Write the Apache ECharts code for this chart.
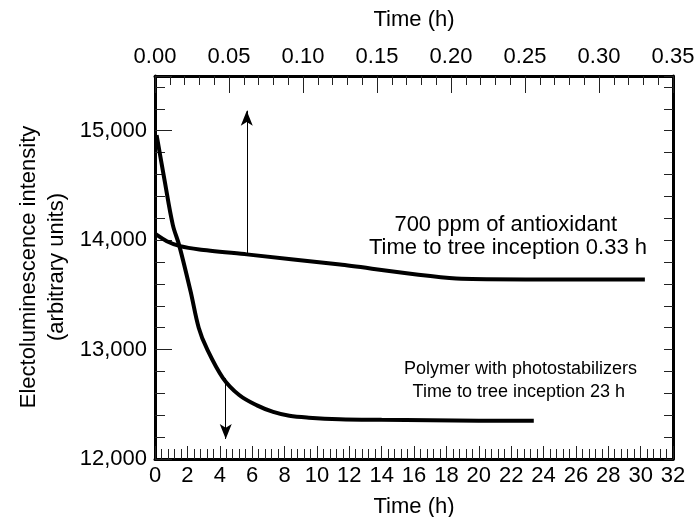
<!DOCTYPE html>
<html>
<head>
<meta charset="utf-8">
<script src="https://cdn.jsdelivr.net/npm/echarts@6/dist/echarts.min.js"></script>
<style>
  html, body { margin: 0; padding: 0; background: #fff; }
  #main { width: 697px; height: 517px; }
</style>
</head>
<body>
<div id="main"></div>
<script>
// polymer with photostabilizers, bottom time axis (h)
const photoTime = [0.1, 0.6, 1.1, 1.5, 2.2, 2.7, 3.2, 4.2, 5.2, 6.3, 7.3, 8.3, 9.5, 11.4, 14, 17, 20, 23.4];
const photoIntensity = [14960, 14540, 14140, 13950, 13530, 13200, 13010, 12740, 12585, 12490, 12430, 12395, 12378, 12364, 12358, 12354, 12350, 12350];

// 700 ppm of antioxidant, top time axis (h)
const antiTime = [0, 0.008, 0.017, 0.03, 0.062, 0.125, 0.207, 0.331];
const antiIntensity = [14060, 13990, 13945, 13915, 13870, 13777, 13648, 13640];

// arrows: [time, start intensity, end intensity]
const upArrow = [0.062, 13880, 15183];
const downArrow = [4.37, 12737, 12183];

const bottomTicks = { min: 0, max: 32, step: 2 };
const topTicks = { min: 0, max: 0.35, step: 0.05 };
const yTicks = { min: 12000, max: 15500, step: 1000, minorStep: 200 };

const font = "'Liberation Sans', Arial, Helvetica, sans-serif";
const fs = 22;
const fsSmall = 18;

let chart = echarts.init(document.getElementById('main'));

function pairs(xs, ys) {
    return xs.map(function (x, i) { return [x, ys[i]]; });
}

function arrowLine(a) {
    return {
        silent: true,
        symbol: ['none', 'arrow'],
        symbolSize: [9, 15],
        label: { show: false },
        lineStyle: { color: '#000', width: 1, type: 'solid' },
        emphasis: { disabled: true },
        data: [[{ coord: [a[0], a[1]] }, { coord: [a[0], a[2]] }]]
    };
}

function note(text, x, y, size) {
    return {
        type: 'text', x: x, y: y,
        style: { text: text, fill: '#000', font: size + 'px ' + font, align: 'right', verticalAlign: 'middle' }
    };
}

let lbl = { color: '#000', fontSize: fs, fontFamily: font };
let tickStyle = { color: '#222', width: 1 };
let frame = { onZero: false, lineStyle: { color: '#000', width: 3 } };
let rect = { left: 155, right: 24, top: 76, bottom: 58, outerBoundsMode: 'none' };

let option = {
    animation: false,
    backgroundColor: '#fff',
    grid: [Object.assign({}, rect), Object.assign({}, rect)],
    xAxis: [
        {
            type: 'value', position: 'bottom', gridIndex: 0,
            min: bottomTicks.min, max: bottomTicks.max, interval: bottomTicks.step,
            name: 'Time (h)', nameLocation: 'middle', nameGap: 37,
            nameTextStyle: lbl,
            axisLine: frame,
            axisTick: { inside: true, length: 13, lineStyle: tickStyle },
            minorTick: { show: true, splitNumber: 5, length: 10, lineStyle: tickStyle },
            axisLabel: Object.assign({ margin: 6 }, lbl),
            splitLine: { show: false }
        },
        {
            type: 'value', position: 'top', gridIndex: 0,
            min: topTicks.min, max: topTicks.max, interval: topTicks.step,
            name: 'Time (h)', nameLocation: 'middle', nameGap: 45,
            nameTextStyle: lbl,
            axisLine: frame,
            axisTick: { inside: true, length: 17, lineStyle: tickStyle },
            minorTick: { show: true, splitNumber: 5, length: 9, lineStyle: tickStyle },
            axisLabel: Object.assign({
                margin: 8,
                formatter: function (v) { return v.toFixed(2); }
            }, lbl),
            splitLine: { show: false }
        },
        {
            // hidden partner axis of the overlay grid
            type: 'value', gridIndex: 1, show: false,
            min: bottomTicks.min, max: bottomTicks.max
        }
    ],
    yAxis: [
        {
            type: 'value', position: 'left', gridIndex: 0,
            min: yTicks.min, max: yTicks.max, interval: yTicks.minorStep,
            axisLine: frame,
            axisTick: { inside: true, length: 10, lineStyle: tickStyle },
            axisLabel: Object.assign({
                margin: 8,
                showMaxLabel: false,
                formatter: function (v) {
                    return v % yTicks.step === 0 ? v.toLocaleString('en-US') : '';
                }
            }, lbl),
            splitLine: { show: false }
        },
        {
            type: 'value', position: 'right', gridIndex: 0,
            min: yTicks.min, max: yTicks.max, interval: yTicks.minorStep,
            axisLine: frame,
            axisTick: { inside: true, length: 9, lineStyle: tickStyle },
            axisLabel: { show: false },
            splitLine: { show: false }
        },
        {
            // longer ticks at the thousands
            type: 'value', position: 'left', gridIndex: 1,
            min: yTicks.min, max: yTicks.max, interval: yTicks.step,
            axisLine: { show: false, onZero: false },
            axisTick: { inside: true, length: 17, lineStyle: tickStyle },
            axisLabel: { show: false },
            splitLine: { show: false }
        }
    ],
    graphic: [
        {
            type: 'text', x: 43, y: 267, rotation: Math.PI / 2,
            style: {
                text: 'Electoluminescence intensity\n(arbitrary units)',
                fill: '#000', font: fs + 'px ' + font,
                align: 'center', verticalAlign: 'middle', lineHeight: 28
            }
        },
        note('700 ppm of antioxidant', 617, 225, fs),
        note('Time to tree inception 0.33 h', 647, 248, fs),
        note('Polymer with photostabilizers', 637, 369, fsSmall),
        note('Time to tree inception 23 h', 625, 392, fsSmall)
    ],
    series: [
        {
            name: 'Polymer with photostabilizers',
            type: 'line',
            xAxisIndex: 0, yAxisIndex: 0,
            data: pairs(photoTime, photoIntensity),
            smooth: 0.35,
            showSymbol: false,
            lineStyle: { color: '#000', width: 4 },
            markLine: arrowLine(downArrow)
        },
        {
            name: '700 ppm of antioxidant',
            type: 'line',
            xAxisIndex: 1, yAxisIndex: 0,
            data: pairs(antiTime, antiIntensity),
            smooth: 0.2,
            showSymbol: false,
            lineStyle: { color: '#000', width: 4 },
            markLine: arrowLine(upArrow)
        }
    ]
};

chart.setOption(option);
</script>
</body>
</html>
